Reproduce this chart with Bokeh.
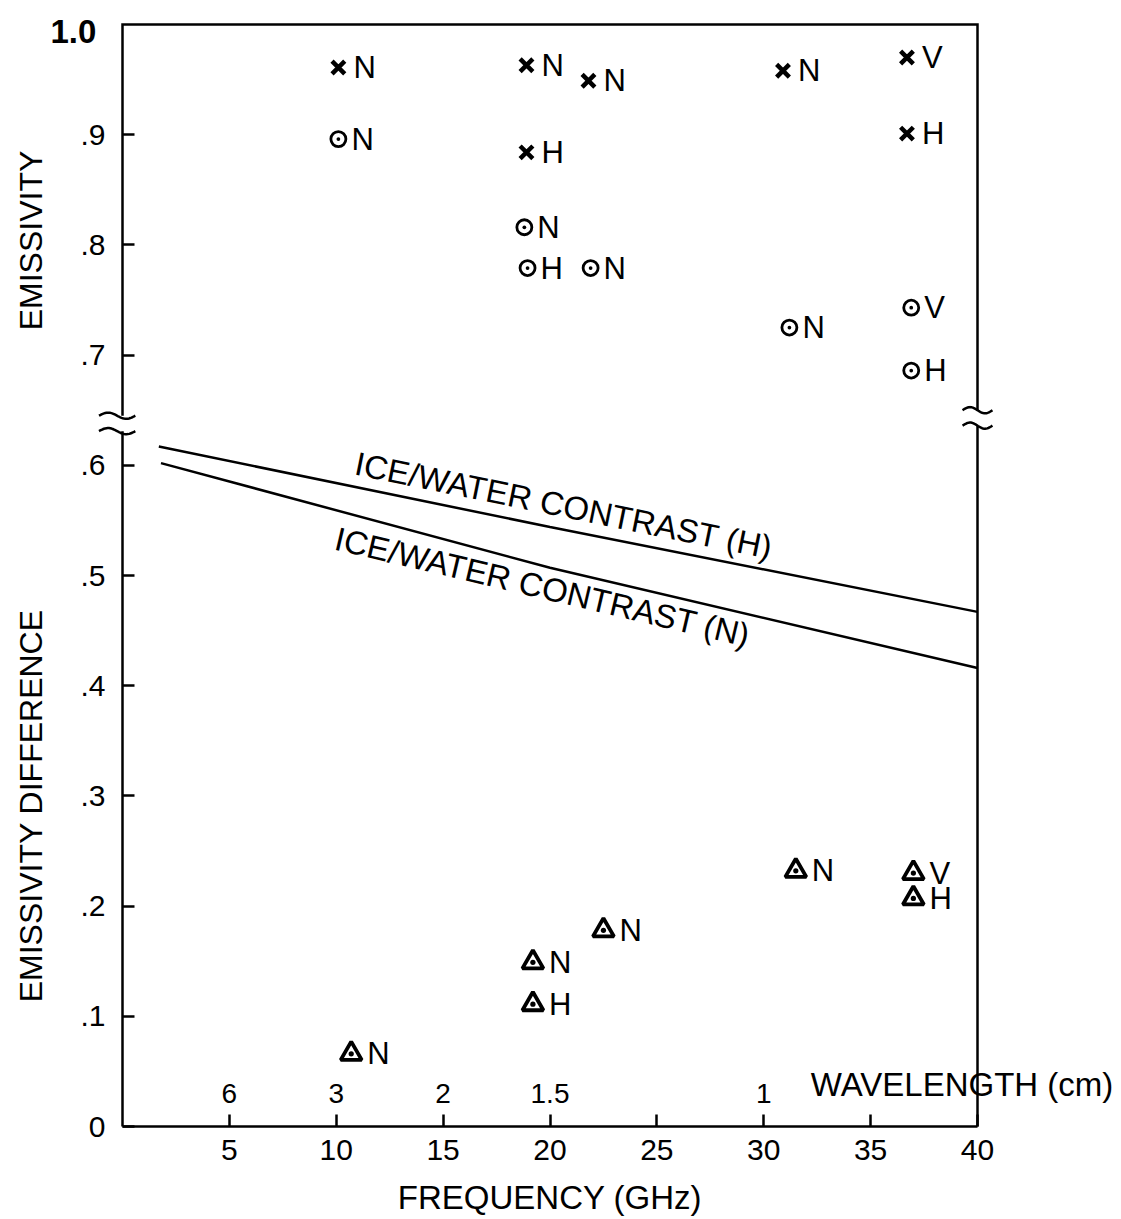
import numpy as np
from bokeh.plotting import figure
from bokeh.models import Range1d, FixedTicker, Label
from bokeh.core.properties import value
from bokeh.embed import file_html
from bokeh.resources import INLINE

# ---------------- data ----------------
# Emissivity, "x" symbols
cross_freq = [10.1, 18.9, 21.8, 30.9, 36.7, 18.9, 36.7]
cross_emis = [0.961, 0.963, 0.949, 0.958, 0.970, 0.884, 0.901]
cross_pol = ["N", "N", "N", "N", "V", "H", "H"]

# Emissivity, circle-dot symbols
circ_freq = [10.1, 18.8, 18.95, 21.9, 31.2, 36.9, 36.9]
circ_emis = [0.896, 0.816, 0.779, 0.779, 0.725, 0.743, 0.686]
circ_pol = ["N", "N", "H", "N", "N", "V", "H"]

# Emissivity difference, triangle-dot symbols
tri_freq = [10.7, 19.2, 19.2, 22.5, 31.5, 37.0, 37.0]
tri_diff = [0.066, 0.149, 0.111, 0.178, 0.232, 0.230, 0.207]
tri_pol = ["N", "N", "H", "N", "N", "V", "H"]

# Ice/water contrast curves
contrast_h_freq = [1.7, 20.0, 40.0]
contrast_h = [0.617, 0.544, 0.467]
contrast_n_freq = [1.8, 20.0, 40.0]
contrast_n = [0.602, 0.507, 0.416]

# Axes
freq_ticks = [5, 10, 15, 20, 25, 30, 35, 40]
wl_tick_freq = [5, 10, 15, 20, 30]
wl_tick_labels = ["6", "3", "2", "1.5", "1"]
y_ticks = [0, 0.1, 0.2, 0.3, 0.4, 0.5, 0.6, 0.7, 0.8, 0.9]
y_tick_labels = ["0", ".1", ".2", ".3", ".4", ".5", ".6", ".7", ".8", ".9"]

# ---------------- layout (pixels) ----------------
FONT = "Liberation Sans"
W, H = 1120, 1218
X0, PXF = 122.0, 21.375      # pixel of 0 GHz, pixels per GHz
Y0, PXV = 1126.0, 1102.0     # pixel of 0, pixels per unit
xr = Range1d(-X0 / PXF, (W - X0) / PXF)
yr = Range1d((Y0 - H) / PXV, Y0 / PXV)

p = figure(width=W, height=H, x_range=xr, y_range=yr,
           output_backend="svg", toolbar_location=None,
           min_border_left=0, min_border_right=0, min_border_top=0, min_border_bottom=0)
p.xgrid.visible = False
p.ygrid.visible = False
p.outline_line_color = None
p.background_fill_color = "white"
p.border_fill_color = "white"

LW = 2.5
for ax in (p.xaxis[0], p.yaxis[0]):
    ax.fixed_location = 0
    ax.axis_line_width = LW
    ax.axis_line_color = "black"
    ax.major_tick_in = 12
    ax.major_tick_out = 0
    ax.major_tick_line_width = LW
    ax.minor_tick_line_color = None
    ax.major_label_text_font = FONT
    ax.major_label_text_color = "black"

p.xaxis[0].ticker = FixedTicker(ticks=freq_ticks)
p.xaxis[0].bounds = (0, 40)
p.xaxis[0].major_label_text_font_size = "30px"
p.xaxis[0].major_label_standoff = 13

p.yaxis[0].ticker = FixedTicker(ticks=y_ticks)
p.yaxis[0].bounds = (0, 1.0)
p.yaxis[0].axis_line_color = None
p.yaxis[0].major_label_overrides = dict(zip(y_ticks, y_tick_labels))
p.yaxis[0].major_label_text_font_size = "30px"
p.yaxis[0].major_label_standoff = 17

# frame with axis breaks
BRK_L = (0.631, 0.645)
BRK_R = (0.636, 0.650)
frame_kw = dict(line_color="black", line_width=LW, line_join="miter")
p.line([0, 0, 40, 40], [BRK_L[1], 1.0, 1.0, BRK_R[1]], **frame_kw)
p.line([0, 0], [0, BRK_L[0]], **frame_kw)
p.line([40, 40], [0, BRK_R[0]], **frame_kw)

t = np.linspace(0, 1, 30)
for (x0, x1, brk) in [(-1.1, 0.6, BRK_L), (39.3, 40.7, BRK_R)]:
    for yc in brk:
        p.line(x0 + (x1 - x0) * t, yc + 0.0028 * np.sin(2 * np.pi * t),
               line_color="black", line_width=LW)

# contrast lines
p.line(contrast_h_freq, contrast_h, line_color="black", line_width=LW)
p.line(contrast_n_freq, contrast_n, line_color="black", line_width=LW)

p.text([10.9], [0.602], text=["ICE/WATER CONTRAST (H)"], angle=-11.5, angle_units="deg",
       text_align="left", text_baseline="alphabetic", text_font=value(FONT),
       text_font_size="33px", text_color="black")
p.text([9.97], [0.534], text=["ICE/WATER CONTRAST (N)"], angle=-13.3, angle_units="deg",
       text_align="left", text_baseline="alphabetic", text_font=value(FONT),
       text_font_size="33px", text_color="black")

# markers
p.scatter(cross_freq, cross_emis, marker="x", size=18, line_width=4.5, line_color="black")
p.scatter(circ_freq, circ_emis, marker="circle_dot", size=15, line_width=2.8,
          line_color="black", fill_color=None)
p.scatter(tri_freq, tri_diff, marker="triangle_dot", size=21, line_width=3.8,
          line_color="black", fill_color=None)

lbl = dict(text_align="left", text_baseline="middle", text_font=value(FONT),
           text_font_size="31px", text_color="black")
p.text(cross_freq, cross_emis, text=cross_pol, x_offset=15, **lbl)
p.text(circ_freq, circ_emis, text=circ_pol, x_offset=13, **lbl)
p.text(tri_freq, tri_diff, text=tri_pol, x_offset=16, **lbl)

# wavelength scale
p.text(wl_tick_freq, [0.030] * len(wl_tick_freq), text=wl_tick_labels, text_align="center",
       text_baseline="alphabetic", text_font=value(FONT), text_font_size="28px",
       text_color="black")
p.add_layout(Label(x=32.2, y=0.038, text="WAVELENGTH (cm)", text_align="left",
                   text_baseline="alphabetic", text_font=FONT, text_font_size="33px",
                   text_color="black"))

# axis titles
p.add_layout(Label(x=-4.3, y=0.804, text="EMISSIVITY", angle=90, angle_units="deg",
                   text_align="center", text_baseline="middle", text_font=FONT,
                   text_font_size="32px", text_color="black"))
p.add_layout(Label(x=-4.3, y=0.291, text="EMISSIVITY DIFFERENCE", angle=90, angle_units="deg",
                   text_align="center", text_baseline="middle", text_font=FONT,
                   text_font_size="32px", text_color="black"))
p.add_layout(Label(x=20, y=-0.0644, text="FREQUENCY (GHz)", text_align="center",
                   text_baseline="middle", text_font=FONT, text_font_size="33px",
                   text_color="black"))
p.add_layout(Label(x=-3.37, y=0.994, text="1.0", text_align="left",
                   text_baseline="alphabetic", text_font=FONT, text_font_size="33px",
                   text_font_style="bold", text_color="black"))

open("out.html", "w").write(file_html(p, INLINE))
